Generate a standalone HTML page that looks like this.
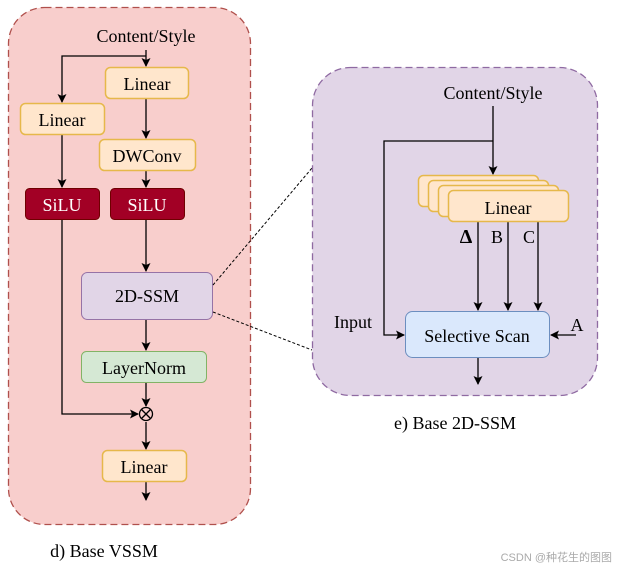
<!DOCTYPE html>
<html><head><meta charset="utf-8"><style>
html,body{margin:0;padding:0;background:#fff;}
svg{display:block;}
text{font-family:"Liberation Serif",serif;}
</style></head><body>
<svg width="619" height="569" viewBox="0 0 619 569" xmlns="http://www.w3.org/2000/svg">
<defs>
<marker id="a" markerWidth="9" markerHeight="9" refX="8" refY="4.5" orient="auto" markerUnits="userSpaceOnUse">
<path d="M0,0 L9,4.5 L0,9 L2,4.5 Z" fill="#000"/></marker>
</defs>
<rect x="8.5" y="7.5" width="242" height="517" rx="36" fill="#f8cecc" stroke="#b0504c" stroke-width="1.3" stroke-dasharray="7,4"/>
<text x="146" y="42" font-size="18" text-anchor="middle">Content/Style</text>
<g stroke="#000" stroke-width="1.3" fill="none">
<line x1="146" y1="50" x2="146" y2="66" marker-end="url(#a)"/>
<polyline points="146,56 62,56 62,102" marker-end="url(#a)"/>
<line x1="146" y1="99" x2="146" y2="138" marker-end="url(#a)"/>
<line x1="146" y1="170" x2="146" y2="187" marker-end="url(#a)"/>
<line x1="62" y1="134" x2="62" y2="187" marker-end="url(#a)"/>
<line x1="146" y1="220" x2="146" y2="271" marker-end="url(#a)"/>
<line x1="146" y1="320" x2="146" y2="350" marker-end="url(#a)"/>
<line x1="146" y1="383" x2="146" y2="406" marker-end="url(#a)"/>
<polyline points="62,220 62,414 138,414" marker-end="url(#a)"/>
<line x1="146" y1="422" x2="146" y2="449" marker-end="url(#a)"/>
<line x1="146" y1="482" x2="146" y2="500" marker-end="url(#a)"/>
</g>
<rect x="105.5" y="67.5" width="83" height="31" rx="5" fill="#ffe6cc" stroke="#e6b84a" stroke-width="1.5"/>
<text x="147" y="90" font-size="18" text-anchor="middle">Linear</text>
<rect x="20.5" y="103.5" width="84" height="31" rx="5" fill="#ffe6cc" stroke="#e6b84a" stroke-width="1.5"/>
<text x="62" y="126" font-size="18" text-anchor="middle">Linear</text>
<rect x="99.5" y="139.5" width="96" height="31" rx="5" fill="#ffe6cc" stroke="#e6b84a" stroke-width="1.5"/>
<text x="147" y="162" font-size="18" text-anchor="middle">DWConv</text>
<rect x="25.5" y="188.5" width="74" height="31" rx="4" fill="#a20025" stroke="#6f0000"/>
<text x="62" y="211" font-size="18" fill="#fff" text-anchor="middle">SiLU</text>
<rect x="110.5" y="188.5" width="74" height="31" rx="4" fill="#a20025" stroke="#6f0000"/>
<text x="147" y="211" font-size="18" fill="#fff" text-anchor="middle">SiLU</text>
<rect x="81.5" y="272.5" width="131" height="47" rx="6" fill="#e1d5e7" stroke="#9673a6"/>
<text x="147" y="302" font-size="18" text-anchor="middle">2D-SSM</text>
<rect x="81.5" y="351.5" width="125" height="31" rx="5" fill="#d5e8d4" stroke="#82b366"/>
<text x="144" y="374" font-size="18" text-anchor="middle">LayerNorm</text>
<circle cx="146" cy="414" r="6.5" fill="none" stroke="#000" stroke-width="1.3"/>
<line x1="141.5" y1="409.5" x2="150.5" y2="418.5" stroke="#000" stroke-width="1.3"/>
<line x1="150.5" y1="409.5" x2="141.5" y2="418.5" stroke="#000" stroke-width="1.3"/>
<rect x="102.5" y="450.5" width="84" height="31" rx="5" fill="#ffe6cc" stroke="#e6b84a" stroke-width="1.5"/>
<text x="144" y="473" font-size="18" text-anchor="middle">Linear</text>
<text x="104" y="557" font-size="18" text-anchor="middle">d) Base VSSM</text>
<line x1="213" y1="285" x2="312" y2="168" stroke="#000" stroke-dasharray="3,2"/>
<line x1="213" y1="312" x2="312" y2="350" stroke="#000" stroke-dasharray="3,2"/>
<rect x="312.5" y="67.5" width="285" height="328" rx="38" fill="#e1d5e7" stroke="#8f6aa2" stroke-width="1.3" stroke-dasharray="7,4"/>
<text x="493" y="99" font-size="18" text-anchor="middle">Content/Style</text>
<g stroke="#000" stroke-width="1.3" fill="none">
<line x1="493" y1="106" x2="493" y2="174" marker-end="url(#a)"/>
<polyline points="493,141 384,141 384,335 404,335" marker-end="url(#a)"/>
<line x1="478" y1="222" x2="478" y2="310" marker-end="url(#a)"/>
<line x1="508" y1="222" x2="508" y2="310" marker-end="url(#a)"/>
<line x1="538" y1="222" x2="538" y2="310" marker-end="url(#a)"/>
<line x1="576" y1="335" x2="551" y2="335" marker-end="url(#a)"/>
<line x1="478" y1="358" x2="478" y2="384" marker-end="url(#a)"/>
</g>
<rect x="418.5" y="175.5" width="120" height="31" rx="5" fill="#ffe6cc" stroke="#e6b84a" stroke-width="1.5"/>
<rect x="428.5" y="180.5" width="120" height="31" rx="5" fill="#ffe6cc" stroke="#e6b84a" stroke-width="1.5"/>
<rect x="438.5" y="185.5" width="120" height="31" rx="5" fill="#ffe6cc" stroke="#e6b84a" stroke-width="1.5"/>
<rect x="448.5" y="190.5" width="120" height="31" rx="5" fill="#ffe6cc" stroke="#e6b84a" stroke-width="1.5"/>
<text x="508" y="214" font-size="18" text-anchor="middle">Linear</text>
<text x="466" y="243" font-size="20" font-weight="bold" text-anchor="middle">Δ</text>
<text x="497" y="243" font-size="18" text-anchor="middle">B</text>
<text x="529" y="243" font-size="18" text-anchor="middle">C</text>
<rect x="405.5" y="311.5" width="144" height="46" rx="7" fill="#dae8fc" stroke="#6c8ebf"/>
<text x="477" y="342" font-size="18" text-anchor="middle">Selective Scan</text>
<text x="353" y="328" font-size="18" text-anchor="middle">Input</text>
<text x="577" y="331" font-size="18" text-anchor="middle">A</text>
<text x="455" y="429" font-size="18" text-anchor="middle">e) Base 2D-SSM</text>
<text x="612" y="561" font-size="11" fill="#aaa" text-anchor="end" style="font-family:'Liberation Sans','Noto Sans CJK SC',sans-serif">CSDN @种花生的图图</text>
</svg>
</body></html>
